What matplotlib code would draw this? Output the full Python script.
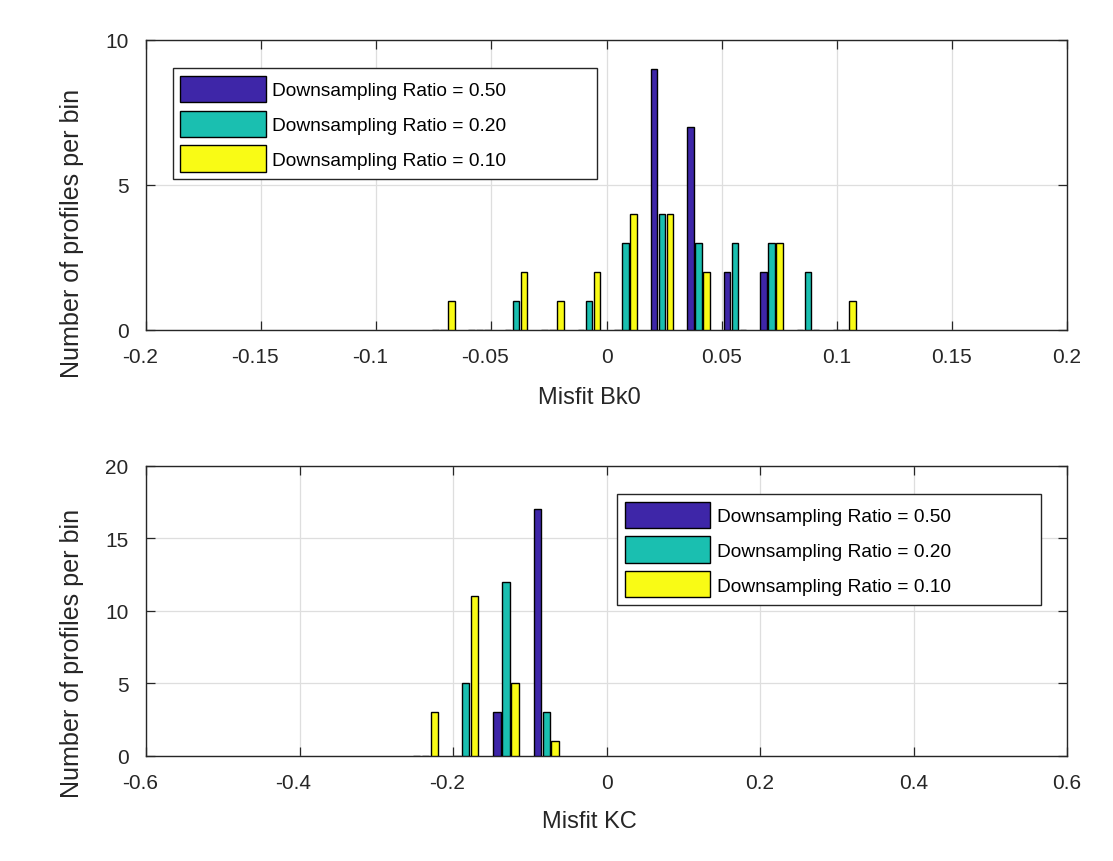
import matplotlib

matplotlib.use("Agg")
import matplotlib.pyplot as plt
import matplotlib.transforms as mtransforms
import numpy as np

plt.rcParams["font.family"] = ["Liberation Sans", "DejaVu Sans"]
plt.rcParams["axes.unicode_minus"] = False

# series labels / colours (MATLAB parula-ish)
series_labels = [
    "Downsampling Ratio = 0.50",
    "Downsampling Ratio = 0.20",
    "Downsampling Ratio = 0.10",
]
series_colors = ["#3e26a8", "#1abfb0", "#f9fb15"]

# top panel: misfit Bk0 histogram
bk0_centers = [-0.0709, -0.0551, -0.0393, -0.0234, -0.0076, 0.0083,
               0.0241, 0.0399, 0.0558, 0.0716, 0.0875, 0.1033]
bk0_r050 = [0, 0, 0, 0, 0, 0, 9, 7, 2, 2, 0, 0]
bk0_r020 = [0, 0, 1, 0, 1, 3, 4, 3, 3, 3, 2, 0]
bk0_r010 = [1, 0, 2, 1, 2, 4, 4, 2, 0, 3, 0, 1]
bk0_xticks = [-0.2, -0.15, -0.1, -0.05, 0, 0.05, 0.1, 0.15, 0.2]
bk0_yticks = [0, 5, 10]

# bottom panel: misfit KC histogram
kc_centers = [-0.2359, -0.1834, -0.1309, -0.0784]
kc_r050 = [0, 0, 3, 17]
kc_r020 = [0, 5, 12, 3]
kc_r010 = [3, 11, 5, 1]
kc_xticks = [-0.6, -0.4, -0.2, 0, 0.2, 0.4, 0.6]
kc_yticks = [0, 5, 10, 15, 20]

SPINE = "#262626"


def grouped_hist(ax, centers, series):
    centers = np.asarray(centers)
    step = np.median(np.diff(centers))
    width = 0.185 * step
    offsets = np.array([-1, 0, 1]) * 0.22 * step
    for counts, off, color, label in zip(series, offsets, series_colors, series_labels):
        ax.bar(centers + off, counts, width=width, color=color,
               edgecolor="black", linewidth=1.0, label=label, zorder=3)


def style_axes(ax, xticks, yticks):
    ax.set_xlim(xticks[0], xticks[-1])
    ax.set_ylim(yticks[0], yticks[-1])
    ax.set_xticks(xticks)
    ax.set_xticklabels([f"{t:g}" for t in xticks])
    ax.set_yticks(yticks)
    ax.set_yticklabels([f"{t:g}" for t in yticks])
    ax.set_axisbelow(True)
    ax.grid(True, color="#dedede", linewidth=0.9)
    for s in ax.spines.values():
        s.set_color(SPINE)
        s.set_linewidth(1.0)
    ax.tick_params(direction="in", length=6.5, width=0.9, color=SPINE,
                   top=True, right=True, labelsize=15, labelcolor="#262626")
    ax.tick_params(axis="x", pad=12)
    ax.tick_params(axis="y", pad=12.5)
    # MATLAB puts the negative labels a little to the left
    shift = mtransforms.ScaledTranslation(-6 / 100, 0, ax.figure.dpi_scale_trans)
    for t, lab in zip(xticks, ax.get_xticklabels()):
        if t < 0:
            lab.set_transform(lab.get_transform() + shift)


def add_legend(ax, x0, y_top):
    leg = ax.legend(loc="upper left", bbox_to_anchor=(x0, 0.4, 0.4604, y_top - 0.4),
                    mode="expand", fontsize=13.8, handlelength=4.46, handleheight=1.735,
                    handletextpad=0.33, labelspacing=0.44, borderpad=0.40,
                    borderaxespad=0, fancybox=False, framealpha=1, edgecolor=SPINE)
    leg.get_frame().set_linewidth(1.0)


def set_labels(ax, xlabel, xlab_y, ylab_y):
    ax.set_xlabel(xlabel, fontsize=17, color="#262626")
    ax.xaxis.set_label_coords(0.4815, xlab_y)
    ax.xaxis.label.set_va("baseline")
    ax.set_ylabel("Number of profiles per bin", fontsize=18.1, color="#262626")
    ax.yaxis.set_label_coords(-0.0799, ylab_y)
    ax.yaxis.label.set_va("center")


fig = plt.figure(figsize=(11.13, 8.62), dpi=100, facecolor="white")
ax1 = fig.add_axes([0.13118, 0.61601, 0.82749, 0.33643])
ax2 = fig.add_axes([0.13118, 0.12181, 0.82749, 0.33643])

grouped_hist(ax1, bk0_centers, [bk0_r050, bk0_r020, bk0_r010])
style_axes(ax1, bk0_xticks, bk0_yticks)
add_legend(ax1, 0.029, 0.9024)
set_labels(ax1, "Misfit Bk0", -0.2528, 0.338)

grouped_hist(ax2, kc_centers, [kc_r050, kc_r020, kc_r010])
style_axes(ax2, kc_xticks, kc_yticks)
add_legend(ax2, 0.5117, 0.9034)
set_labels(ax2, "Misfit KC", -0.2459, 0.3586)

fig.savefig("out.png", dpi=100, facecolor="white")
plt.close(fig)
